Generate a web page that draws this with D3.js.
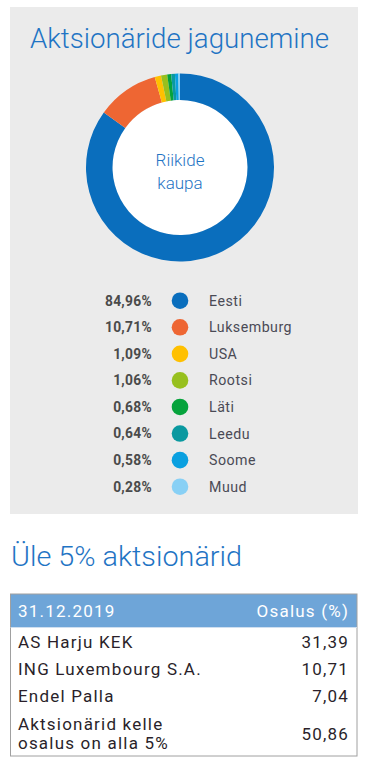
<!DOCTYPE html>
<html>
<head>
<meta charset="utf-8">
<script src="https://cdn.jsdelivr.net/npm/d3@7"></script>
<style>
  html, body { margin: 0; padding: 0; background: #ffffff; }
  svg { display: block; }
</style>
</head>
<body>
<script>
// ---- data ----
const countries = ["Eesti", "Luksemburg", "USA", "Rootsi", "Läti", "Leedu", "Soome", "Muud"];
const shares = [84.96, 10.71, 1.09, 1.06, 0.68, 0.64, 0.58, 0.28];
const countryColors = ["#0a6ebd", "#ee6633", "#ffc000", "#97c01e", "#06a33c", "#0a99a0", "#0aa0e0", "#88d0f5"];

const tableDate = "31.12.2019";
const tableValueHeader = "Osalus (%)";
const shareholders = ["AS Harju KEK", "ING Luxembourg S.A.", "Endel Palla", "Aktsionärid kelle|osalus on alla 5%"];
const holdings = [31.39, 10.71, 7.04, 50.86];

const chartTitle = "Aktsionäride jagunemine";
const centerLabel = ["Riikide", "kaupa"];
const tableTitle = "Üle 5% aktsionärid";

// ---- setup ----
const W = 366, H = 763;
const locale = d3.formatLocale({ decimal: ",", thousands: " ", grouping: [3], currency: ["", ""] });
const fmt2 = locale.format(".2f");

const svg = d3.select("body").append("svg").attr("width", W).attr("height", H);

const blue = "#1f74c4";
const titleFont = "Roboto, 'Open Sans', sans-serif";
const bodyFont = "Roboto, 'DejaVu Sans', sans-serif";

// panel
svg.append("rect").attr("x", 10).attr("y", 7).attr("width", 348).attr("height", 507).attr("fill", "#ebebeb");

// title
svg.append("text").attr("x", 30).attr("y", 48)
  .attr("font-family", titleFont).attr("font-weight", 300).attr("font-size", 28.5)
  .attr("fill", blue).attr("textLength", 299).attr("lengthAdjust", "spacingAndGlyphs")
  .text(chartTitle);

// donut
const cx = 180, cy = 167.5, rOuter = 94, rInner = 67.5;
const pie = d3.pie().sort(null).value(d => d)(shares);
const arc = d3.arc().innerRadius(rInner).outerRadius(rOuter);
const color = d3.scaleOrdinal().domain(countries).range(countryColors);
const g = svg.append("g").attr("transform", `translate(${cx},${cy})`);
g.append("circle").attr("r", rInner).attr("fill", "#ffffff");
g.selectAll("path.slice").data(pie).join("path")
  .attr("class", "slice")
  .attr("d", arc)
  .attr("fill", (d, i) => color(countries[i]));
g.selectAll("text.center").data(centerLabel).join("text")
  .attr("class", "center")
  .attr("x", 0).attr("y", (d, i) => -2 + i * 23)
  .attr("text-anchor", "middle")
  .attr("font-family", titleFont).attr("font-weight", 300).attr("font-size", 17)
  .attr("fill", blue)
  .text(d => d);

// legend
const ly = d3.scalePoint().domain(countries).range([300.7, 486.7]);
const leg = svg.append("g").selectAll("g").data(countries).join("g")
  .attr("transform", d => `translate(0,${ly(d)})`);
leg.append("text").attr("x", 152).attr("y", 0).attr("dy", "0.35em")
  .attr("text-anchor", "end")
  .attr("font-family", bodyFont).attr("font-weight", 700).attr("font-size", 13.8)
  .attr("fill", "#4a4a4a").attr("letter-spacing", 0.3)
  .text((d, i) => fmt2(shares[i]) + "%");
leg.append("circle").attr("cx", 180).attr("cy", 0).attr("r", 8.3)
  .attr("fill", d => color(d));
leg.append("text").attr("x", 209).attr("y", 0).attr("dy", "0.35em")
  .attr("font-family", bodyFont).attr("font-size", 14.2)
  .attr("fill", "#4a4a55").attr("letter-spacing", 0.5)
  .text(d => d);

// second title
svg.append("text").attr("x", 11).attr("y", 566)
  .attr("font-family", titleFont).attr("font-weight", 300).attr("font-size", 27)
  .attr("fill", blue).attr("textLength", 231).attr("lengthAdjust", "spacingAndGlyphs")
  .text(tableTitle);

// table
const tx = 10.5, tw = 346.5, ttop = 594, thead = 33, tbottom = 756;
const tFont = 17, tSpace = 1.2;
svg.append("rect").attr("x", tx).attr("y", ttop).attr("width", tw).attr("height", thead).attr("fill", "#6ea5d8");
svg.append("rect").attr("x", tx).attr("y", ttop).attr("width", tw).attr("height", tbottom - ttop)
  .attr("fill", "none").attr("stroke", "#a0a0a0").attr("stroke-width", 1);
svg.append("line").attr("x1", tx).attr("x2", tx + tw).attr("y1", ttop + thead + 0.5).attr("y2", ttop + thead + 0.5)
  .attr("stroke", "#cfdff0").attr("stroke-width", 1);

svg.append("text").attr("x", 18).attr("y", 617)
  .attr("font-family", bodyFont).attr("font-size", tFont).attr("fill", "#ffffff").attr("letter-spacing", tSpace)
  .text(tableDate);
svg.append("text").attr("x", 349).attr("y", 617).attr("text-anchor", "end")
  .attr("font-family", bodyFont).attr("font-size", tFont).attr("fill", "#ffffff").attr("letter-spacing", tSpace)
  .text(tableValueHeader);

const rowY = d3.scalePoint().domain(d3.range(3)).range([648, 702]);
const rowYs = [rowY(0), rowY(1), rowY(2), 740];
const rows = svg.append("g").selectAll("g").data(shareholders).join("g");
rows.each(function (d, i) {
  const lines = d.split("|");
  const sel = d3.select(this);
  const sel2 = sel.append("text").attr("x", 18).attr("y", lines.length > 1 ? 730 : rowYs[i])
    .attr("font-family", bodyFont).attr("font-size", tFont).attr("fill", "#2a1f2a").attr("letter-spacing", tSpace);
  lines.forEach((ln, k) => {
    sel2.append("tspan").attr("x", 18).attr("dy", k === 0 ? 0 : 19.2).text(ln);
  });
  sel.append("text").attr("x", 349).attr("y", rowYs[i]).attr("text-anchor", "end")
    .attr("font-family", bodyFont).attr("font-size", tFont).attr("fill", "#2a1f2a").attr("letter-spacing", tSpace)
    .text(fmt2(holdings[i]));
});
</script>
</body>
</html>
